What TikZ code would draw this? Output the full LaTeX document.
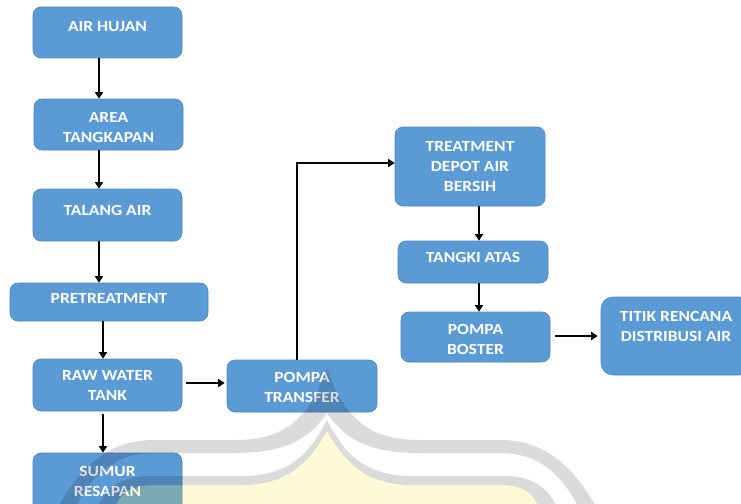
\documentclass[tikz,border=0pt]{standalone}
\usepackage{fontspec}
\newfontfamily\boxfont[FakeStretch=1.13]{Carlito}
\usetikzlibrary{arrows.meta,calc}
\definecolor{boxblue}{HTML}{5B9BD5}
\definecolor{boxedge}{HTML}{4F86BF}
\definecolor{roofgold}{RGB}{255,230,50}

\begin{document}
\begin{tikzpicture}[x=1pt,y=-1pt,
  flowbox/.style={draw=boxedge, line width=0.6pt, fill=boxblue, rounded corners=8pt,
                  minimum width=149pt, minimum height=#1, inner sep=0pt},
  flowbox/.default=52pt,
  lbl/.style={text=white, font=\boxfont\bfseries\fontsize{15.5}{20}\selectfont,
              align=center, inner sep=0pt},
  arr/.style={line width=2pt, -{Triangle[length=6.5pt,width=8pt]}},
  band/.style={fill=black, fill opacity=0.14},
  roof/.style={fill=roofgold, fill opacity=0.2}]

\useasboundingbox (0,0) rectangle (741,503);
\clip (0,0) rectangle (741,503);

% left column
\node[flowbox=51pt] (hujan) at (107.5,32.5) {};
\node[lbl, yshift=5.5pt] (hujanT) at (hujan) {AIR HUJAN};
\node[flowbox=51pt] (area) at (108.5,124.5) {};
\node[lbl, yshift=-3.5pt] (areaT) at (area) {AREA\\TANGKAPAN};
\node[flowbox] (talang) at (107.5,215) {};
\node[lbl, yshift=5pt] (talangT) at (talang) {TALANG AIR};
\node[flowbox=38pt, minimum width=198pt] (pre) at (109,302) {};
\node[lbl, yshift=3.5pt] (preT) at (pre) {PRETREATMENT};
\node[flowbox] (raw) at (107.5,385) {};
\node[lbl] (rawT) at (raw) {RAW WATER\\TANK};
\node[flowbox=64pt] (sumur) at (107.5,485) {};
\node[lbl, yshift=3.5pt] (sumurT) at (sumur) {SUMUR\\RESAPAN};

% pump and treatment column
\node[flowbox, minimum width=150pt] (transfer) at (302,386) {};
\node[lbl, yshift=-1pt] (transferT) at (transfer) {POMPA\\TRANSFER};
\node[flowbox=79pt, minimum width=150pt] (treat) at (470,166.5) {};
\node[lbl] (treatT) at (treat) {TREATMENT\\DEPOT AIR\\BERSIH};
\node[flowbox=42pt, minimum width=150pt] (tangki) at (473,262) {};
\node[lbl, yshift=5pt] (tangkiT) at (tangki) {TANGKI ATAS};
\node[flowbox=50pt] (boster) at (475.5,337) {};
\node[lbl, yshift=-2pt] (bosterT) at (boster) {POMPA\\BOSTER};
\node[flowbox=78pt, minimum width=150pt, rounded corners=12pt] (titik) at (676,336) {};
\node[lbl, yshift=10pt] (titikT) at (titik) {TITIK RENCANA\\DISTRIBUSI AIR};

% connectors
\draw[arr] ([xshift=-8.5pt]hujan.south) -- ([xshift=-9.5pt]area.north);
\draw[arr] ([xshift=-9.5pt]area.south) -- ([xshift=-8.5pt]talang.north);
\draw[arr] ([xshift=-8.5pt]talang.south) -- ([xshift=-10pt]pre.north);
\draw[arr] ([xshift=-6pt]pre.south) -- ([xshift=-4.5pt]raw.north);
\draw[arr] ([xshift=-4.5pt,yshift=-3pt]raw.south) -- ([xshift=-4.5pt]sumur.north);
\draw[arr] ([xshift=3.5pt,yshift=2pt]raw.east) -- ([xshift=-2pt,yshift=3pt]transfer.west);
\draw[arr] ([xshift=-5pt]transfer.north) |- ([yshift=3.5pt]treat.west);
\draw[arr] ([xshift=9pt]treat.south) -- ([xshift=6pt]tangki.north);
\draw[arr] ([xshift=6pt]tangki.south) -- ([xshift=3.5pt]boster.north);
\draw[arr] ([xshift=5pt,yshift=1pt]boster.east) -- ([xshift=-3pt]titik.west);

% roof emblem in the background
\fill[roof] (327,431) .. controls (345,462) and (365,484) .. (410,485) -- (500,485)
  .. controls (525,485) and (535,495) .. (540,510) -- (114,510)
  .. controls (119,495) and (129,485) .. (154,485) -- (244,485)
  .. controls (289,484) and (309,462) .. cycle;
\fill[band] (327,368) .. controls (345,420) and (370,440) .. (420,440) -- (500,440)
  .. controls (540,440) and (570,460) .. (598,510) -- (580,510)
  .. controls (560,470) and (535,453) .. (500,453) -- (420,453)
  .. controls (370,453) and (345,440) .. (327,413)
  .. controls (309,440) and (284,453) .. (234,453) -- (154,453)
  .. controls (119,453) and (94,470) .. (74,510) -- (56,510)
  .. controls (84,460) and (114,440) .. (154,440) -- (234,440)
  .. controls (284,440) and (309,420) .. cycle;
\fill[band] (327,420) .. controls (345,455) and (365,475) .. (410,476) -- (505,476)
  .. controls (535,476) and (550,490) .. (558,510) -- (540,510)
  .. controls (535,495) and (525,485) .. (500,485) -- (410,485)
  .. controls (365,484) and (345,462) .. (327,431)
  .. controls (309,462) and (289,484) .. (244,485) -- (154,485)
  .. controls (129,485) and (119,495) .. (114,510) -- (96,510)
  .. controls (104,490) and (119,476) .. (149,476) -- (244,476)
  .. controls (289,475) and (309,455) .. cycle;
\end{tikzpicture}
\end{document}
